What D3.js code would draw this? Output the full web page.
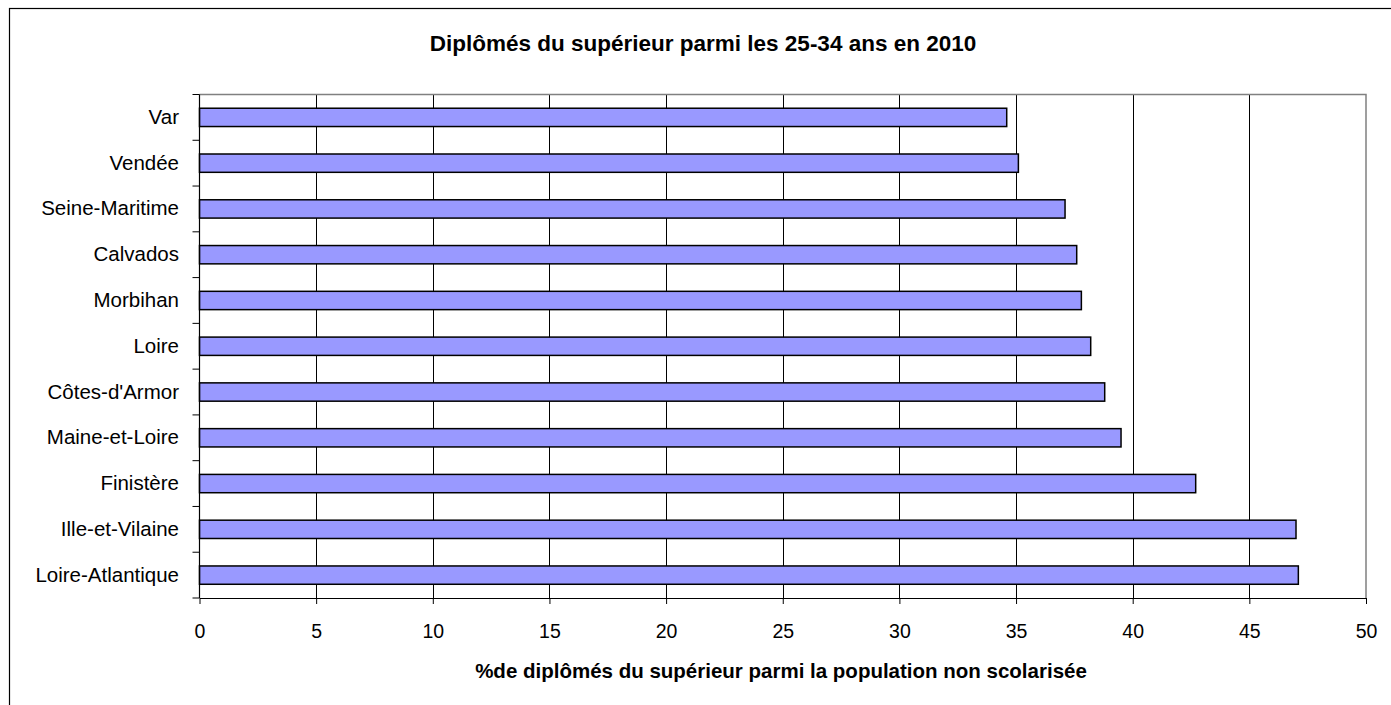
<!DOCTYPE html>
<html>
<head>
<meta charset="utf-8">
<script src="https://cdn.jsdelivr.net/npm/d3@7"></script>
<style>
  body { margin: 0; background: #fff; }
  text { font-family: "Liberation Sans", Arial, sans-serif; fill: #000; }
</style>
</head>
<body>
<div id="chart"></div>
<script>
//Departments, top to bottom as shown
var departments = ["Var", "Vendée", "Seine-Maritime", "Calvados", "Morbihan", "Loire",
	"Côtes-d'Armor", "Maine-et-Loire", "Finistère", "Ille-et-Vilaine", "Loire-Atlantique"];

//% of graduates among 25-34 years old
var graduateShare = [34.6, 35.1, 37.1, 37.6, 37.8, 38.2, 38.8, 39.5, 42.7, 47.0, 47.1];

var xTicks = [0, 5, 10, 15, 20, 25, 30, 35, 40, 45, 50];

var chartTitle = "Diplômés du supérieur parmi les 25-34 ans en 2010";
var xTitle = "%de diplômés du supérieur parmi la population non scolarisée";

//Plot area
var width = 1391, height = 705;
var plot = {left: 199.5, right: 1366, top: 94.5, bottom: 598};

var svg = d3.select("#chart")
	.append("svg")
	.attr("width", width)
	.attr("height", height);

//Outer chart frame (cut by the picture on the right and bottom)
svg.append("rect")
	.attr("x", 9.5)
	.attr("y", 8.5)
	.attr("width", 1400)
	.attr("height", 720)
	.attr("fill", "#fff")
	.attr("stroke", "#000")
	.attr("stroke-width", 1.2);

var x = d3.scaleLinear()
	.domain([0, 50])
	.range([plot.left, plot.right]);

var y = d3.scaleBand()
	.domain(departments)
	.range([plot.top, plot.bottom])
	.paddingInner(0.6)
	.paddingOuter(0.3);

//Vertical gridlines
svg.append("g")
	.selectAll("line")
	.data(xTicks.slice(1, -1))
	.enter()
	.append("line")
	.attr("x1", function(d){ return Math.round(x(d)) + 0.5; })
	.attr("x2", function(d){ return Math.round(x(d)) + 0.5; })
	.attr("y1", plot.top)
	.attr("y2", plot.bottom)
	.attr("stroke", "#000")
	.attr("stroke-width", 1);

//Plot border top and right in grey
svg.append("path")
	.attr("d", "M" + plot.left + "," + plot.top + "H" + plot.right + "V" + plot.bottom)
	.attr("fill", "none")
	.attr("stroke", "#808080")
	.attr("stroke-width", 1.5);

//Bars
svg.append("g")
	.selectAll("rect")
	.data(graduateShare)
	.enter()
	.append("rect")
	.attr("x", plot.left)
	.attr("y", function(d, i){ return y(departments[i]); })
	.attr("width", function(d){ return x(d) - plot.left; })
	.attr("height", y.bandwidth())
	.attr("fill", "#9999ff")
	.attr("stroke", "#000")
	.attr("stroke-width", 1.5);

//X axis
var xAxis = svg.append("g")
	.attr("transform", "translate(0," + plot.bottom + ")")
	.call(d3.axisBottom(x).tickValues(xTicks).tickSize(6).tickPadding(0).tickSizeOuter(0));
xAxis.select(".domain").attr("stroke", "#000").attr("stroke-width", 1.2);
xAxis.selectAll("text")
	.attr("y", 40)
	.attr("dy", null)
	.style("font-size", "19.5px")
	.style("font-family", "'Liberation Sans', Arial, sans-serif");

//Y axis: ticks sit between categories
var yAxis = svg.append("g");
yAxis.append("line")
	.attr("x1", plot.left).attr("x2", plot.left)
	.attr("y1", plot.top).attr("y2", plot.bottom)
	.attr("stroke", "#000")
	.attr("stroke-width", 1.2);
var bounds = departments.map(function(d){ return y(d) - y.step() * 0.3; });
bounds.push(plot.bottom);
yAxis.selectAll(".ytick")
	.data(bounds)
	.enter()
	.append("line")
	.attr("class", "ytick")
	.attr("x1", plot.left - 7).attr("x2", plot.left)
	.attr("y1", function(d){ return d; })
	.attr("y2", function(d){ return d; })
	.attr("stroke", "#000");

yAxis.selectAll(".ylabel")
	.data(departments)
	.enter()
	.append("text")
	.attr("class", "ylabel")
	.attr("x", 179)
	.attr("y", function(d){ return y(d) + y.bandwidth() / 2; })
	.attr("dy", "0.32em")
	.attr("text-anchor", "end")
	.style("font-size", "20.5px")
	.text(function(d){ return d; });

//Titles
svg.append("text")
	.attr("x", 703)
	.attr("y", 51)
	.attr("text-anchor", "middle")
	.style("font-size", "22.5px")
	.style("font-weight", "bold")
	.text(chartTitle);

svg.append("text")
	.attr("x", 781)
	.attr("y", 678)
	.attr("text-anchor", "middle")
	.style("font-size", "20.5px")
	.style("font-weight", "bold")
	.text(xTitle);
</script>
</body>
</html>
